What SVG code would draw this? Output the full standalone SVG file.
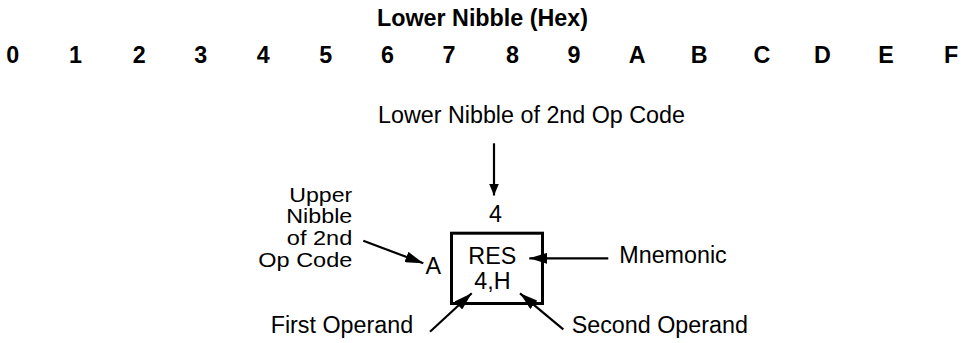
<svg xmlns="http://www.w3.org/2000/svg" width="964" height="343" viewBox="0 0 964 343">
<style>
  text { font-family: "Liberation Sans", Arial, Helvetica, sans-serif; font-size: 23.3px; fill: #000; }
  .b { font-weight: bold; }
  .m { text-anchor: middle; }
  .e { text-anchor: end; }
  .s { font-size: 21px; }
  .ln { stroke: #000; stroke-width: 2.2; fill: none; }
  .box { stroke: #000; stroke-width: 3; fill: #fff; }
</style>
<defs>
  <marker id="ah" markerUnits="userSpaceOnUse" markerWidth="19" markerHeight="11" refX="18" refY="5.5" orient="auto">
    <path d="M0,0 L18,5.5 L0,11 z" fill="#000"/>
  </marker>
  <marker id="ahs" markerUnits="userSpaceOnUse" markerWidth="13" markerHeight="10" refX="12" refY="5" orient="auto">
    <path d="M0,0 L12,5 L0,10 z" fill="#000"/>
  </marker>
</defs>
<rect width="964" height="343" fill="#fff"/>

<g id="header">
  <text class="b m" x="482.5" y="26">Lower Nibble (Hex)</text>
  <text class="b m" x="12.8" y="63">0</text>
  <text class="b m" x="75.5" y="63">1</text>
  <text class="b m" x="139.2" y="63">2</text>
  <text class="b m" x="200.8" y="63">3</text>
  <text class="b m" x="263.3" y="63">4</text>
  <text class="b m" x="325.8" y="63">5</text>
  <text class="b m" x="387.5" y="63">6</text>
  <text class="b m" x="449" y="63">7</text>
  <text class="b m" x="512.5" y="63">8</text>
  <text class="b m" x="574" y="63">9</text>
  <text class="b m" x="637.2" y="63">A</text>
  <text class="b m" x="699.2" y="63">B</text>
  <text class="b m" x="762" y="63">C</text>
  <text class="b m" x="822.5" y="63">D</text>
  <text class="b m" x="886" y="63">E</text>
  <text class="b m" x="951" y="63">F</text>
</g>

<g id="lower-nibble-label">
  <text class="m" x="531.5" y="123.3">Lower Nibble of 2nd Op Code</text>
</g>

<g id="upper-nibble-label">
  <text class="e s" x="352.3" y="201.7" textLength="63" lengthAdjust="spacingAndGlyphs">Upper</text>
  <text class="e s" x="352.3" y="223.3" textLength="66" lengthAdjust="spacingAndGlyphs">Nibble</text>
  <text class="e s" x="352.3" y="245" textLength="65.5" lengthAdjust="spacingAndGlyphs">of 2nd</text>
  <text class="e s" x="352.3" y="266.7" textLength="94" lengthAdjust="spacingAndGlyphs">Op Code</text>
</g>

<g id="cell">
  <rect class="box" x="451.5" y="233.2" width="91" height="70.3"/>
  <text class="m" x="495.5" y="222">4</text>
  <text class="m" x="433.3" y="274">A</text>
  <text class="m" x="492.3" y="264">RES</text>
  <text class="m" x="492.5" y="289">4,H</text>
</g>

<g id="mnemonic-label">
  <text x="619.3" y="262.7">Mnemonic</text>
</g>
<g id="first-operand-label">
  <text x="270.7" y="332.7">First Operand</text>
</g>
<g id="second-operand-label">
  <text x="571.7" y="333">Second Operand</text>
</g>

<g id="connectors">
  <line class="ln" x1="494" y1="143.3" x2="494" y2="195.5" stroke-width="2.6" marker-end="url(#ahs)"/>
  <line class="ln" x1="363.3" y1="240.7" x2="423.3" y2="263.3" marker-end="url(#ah)"/>
  <line class="ln" x1="608.3" y1="258.3" x2="529.3" y2="258.3" marker-end="url(#ah)"/>
  <line class="ln" x1="430" y1="331.7" x2="471.7" y2="293.3" marker-end="url(#ah)"/>
  <line class="ln" x1="563.3" y1="329.3" x2="520" y2="293.3" marker-end="url(#ah)"/>
</g>
</svg>
